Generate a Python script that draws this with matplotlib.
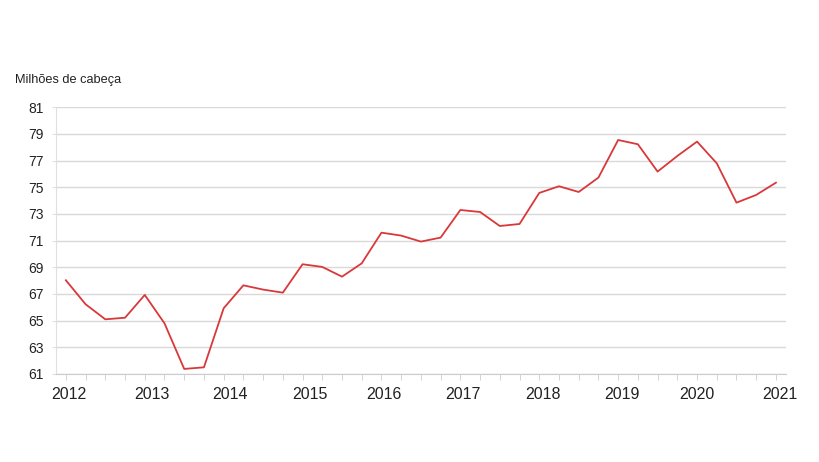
import numpy as np
import matplotlib
matplotlib.use('Agg')
import matplotlib.pyplot as plt

plt.rcParams['font.family'] = ['Liberation Sans', 'DejaVu Sans']

# rebanho trimestral, 2012 T1 a 2021 T1
valores = [68.03, 66.23, 65.10, 65.22, 66.93, 64.80, 61.38, 61.50,
           65.93, 67.65, 67.33, 67.10, 69.23, 69.03, 68.30, 69.30,
           71.60, 71.38, 70.93, 71.23, 73.30, 73.15, 72.10, 72.25,
           74.58, 75.08, 74.65, 75.73, 78.55, 78.23, 76.18, 77.35,
           78.43, 76.80, 73.85, 74.43, 75.35]
anos = ['2012', '2013', '2014', '2015', '2016', '2017', '2018', '2019', '2020', '2021']
y_ticks = [61, 63, 65, 67, 69, 71, 73, 75, 77, 79, 81]

x = np.arange(len(valores))
# onde ficam os rótulos dos anos (em trimestres)
pos_anos = [0.13, 4.36, 8.33, 12.38, 16.13, 20.14, 24.2, 28.2, 31.98, 36.2]

fig = plt.figure(figsize=(8.2, 4.62), dpi=100)
ax = fig.add_axes([0.0683, 0.1905, 0.890, 0.5772])

ax.plot(x, valores, color='#d9383a', lw=1.3, zorder=3)

ax.set_xlim(-0.5, 36.5)
ax.set_ylim(61, 81)
ax.set_yticks(y_ticks)
ax.yaxis.grid(True, color='#d9d9d9', lw=1)
ax.set_axisbelow(True)

ax.set_xticks(x, minor=True)
ax.set_xticks(pos_anos)
ax.set_xticklabels(anos)

for s in ['top', 'right']:
    ax.spines[s].set_visible(False)
ax.spines['left'].set_color('#e0e0e0')
ax.spines['bottom'].set_color('#cccccc')

ax.tick_params(axis='x', which='minor', length=4, color='#cccccc')
ax.tick_params(axis='x', which='major', length=0, labelsize=11.5, pad=9.5, labelcolor='#222222')
ax.tick_params(axis='y', length=3, color='#e0e0e0', labelsize=10, pad=6, labelcolor='#222222')

fig.text(15/820, 1 - 80/462, 'Milhões de cabeça', fontsize=9.2, color='#222222', va='center', ha='left')

fig.savefig('out.png', dpi=100)
